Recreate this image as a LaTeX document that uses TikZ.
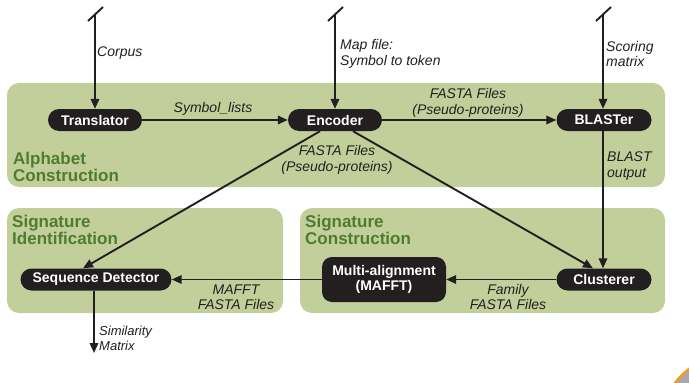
\documentclass[tikz,border=0pt]{standalone}
\usepackage{fontspec}
\setmainfont{Liberation Sans}
\usetikzlibrary{arrows.meta,calc}
\definecolor{boxgreen}{HTML}{C2CF9B}
\definecolor{titlegreen}{HTML}{4E7D2D}
\definecolor{ink}{HTML}{231F20}
\definecolor{decoorange}{HTML}{F39A1E}
\definecolor{decogray}{HTML}{A7A9AC}
\tikzset{
  region/.style={fill=boxgreen, draw=none, rounded corners=12pt},
  regtitle/.style={anchor=west, align=left, text=titlegreen, font=\fontsize{17}{17}\selectfont\bfseries, inner sep=0pt},
  proc/.style={fill=ink, text=white, font=\fontsize{14}{15}\selectfont\bfseries, rounded corners=11pt, minimum height=22pt, inner sep=0pt, align=center},
  lbl/.style={text=ink, font=\fontsize{14}{15.5}\selectfont\itshape, inner sep=0pt, align=center},
  flow/.style={draw=ink, line width=1.9pt, -{Triangle[length=10pt,width=8.5pt]}},
  tick/.style={draw=ink, line width=1.9pt}
}
\begin{document}
\begin{tikzpicture}[x=1pt,y=-1pt]
\useasboundingbox (0,0) rectangle (689,383);
% corner decoration
\begin{scope}
  \clip (0,0) rectangle (689,383);
  \fill[decogray, draw=decoorange, line width=2.5pt] (736,430) circle (77);
\end{scope}
% regions
\fill[region] (7,83) rectangle (665,187);
\fill[region] (7,208) rectangle (283,313);
\fill[region] (300,208) rectangle (665,313);
\node[regtitle] (tA) at (13,167) {Alphabet\\Construction};
\node[regtitle] (tI) at (12,230) {Signature\\Identification};
\node[regtitle] (tC) at (305,230) {Signature\\Construction};
% process nodes
\node[proc, minimum width=94pt] (tr) at (95,120) {Translator};
\node[proc, minimum width=94pt] (enc) at (335,120) {Encoder};
\node[proc, minimum width=95pt] (bl) at (604,120) {BLASTer};
\node[proc, minimum width=151pt] (sd) at (96,279.5) {Sequence Detector};
\node[proc, minimum width=124pt, minimum height=45pt, rounded corners=10pt] (ma) at (384,279.5) {Multi-alignment\\(MAFFT)};
\node[proc, minimum width=95pt] (cl) at (604,279.5) {Clusterer};
% external inputs / outputs
\coordinate (inC) at (95,14);
\coordinate (inM) at (335,14);
\coordinate (inS) at (603,14);
\coordinate (outSim) at (94,353);
\draw[tick] ($(inC)+(-7,7)$) -- ($(inC)+(8,-7)$);
\draw[tick] ($(inM)+(-7,7)$) -- ($(inM)+(8,-7)$);
\draw[tick] ($(inS)+(-7,7)$) -- ($(inS)+(8,-7)$);
\draw[flow] (inC) -- (tr.north);
\draw[flow] (inM) -- (enc.north);
\draw[flow] (inS) -- ([xshift=-1pt]bl.north);
\draw[flow] ([xshift=-2pt]sd.south) -- (outSim);
% flows
\draw[flow] (tr.east) -- (enc.west);
\draw[flow] (enc.east) -- (bl.west);
\draw[flow] ([xshift=-1pt]bl.south) -- ([xshift=-1pt]cl.north);
\draw[flow] ([xshift=-15pt]enc.south) -- ([xshift=-13pt]sd.north);
\draw[flow] ([xshift=18pt]enc.south) -- ([xshift=-11pt]cl.north);
\draw[flow] (cl.west) -- (ma.east);
\draw[flow] (ma.west) -- (sd.east);
% labels
\node[lbl, anchor=west] (lC) at (97,53) {Corpus};
\node[lbl, anchor=west, align=left] (lM) at (340,54) {Map file:\\Symbol to token};
\node[lbl, anchor=west, align=left] (lS) at (606,54) {Scoring\\matrix};
\node[lbl] (lSym) at (213,109) {Symbol\_lists};
\node[lbl] (lF1) at (468,103) {FASTA Files\\(Pseudo-proteins)};
\node[lbl] (lF2) at (337,160) {FASTA Files\\(Pseudo-proteins)};
\node[lbl, anchor=west, align=left] (lB) at (607,166) {BLAST\\output};
\node[lbl] (lMa) at (236,297) {MAFFT\\FASTA Files};
\node[lbl] (lFam) at (508,297) {Family\\FASTA Files};
\node[lbl, anchor=west, align=left, font=\fontsize{13}{15}\selectfont\itshape] (lSim) at (99,338) {Similarity\\Matrix};
\end{tikzpicture}
\end{document}
